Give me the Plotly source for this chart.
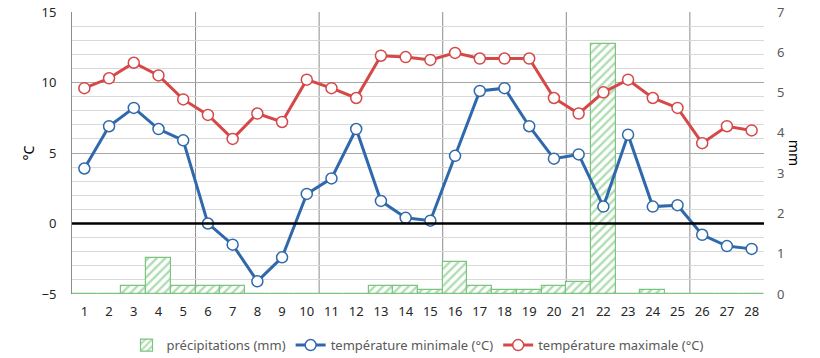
import plotly.graph_objects as go

days = list(range(1, 29))
temp_min = [3.9, 6.9, 8.2, 6.7, 5.9, 0.0, -1.5, -4.1, -2.4, 2.1, 3.2, 6.7, 1.6, 0.4,
            0.2, 4.8, 9.4, 9.6, 6.9, 4.6, 4.9, 1.2, 6.3, 1.2, 1.3, -0.8, -1.6, -1.8]
temp_max = [9.6, 10.3, 11.4, 10.5, 8.8, 7.7, 6.0, 7.8, 7.2, 10.2, 9.6, 8.9, 11.9, 11.8,
            11.6, 12.1, 11.7, 11.7, 11.7, 8.9, 7.8, 9.3, 10.2, 8.9, 8.2, 5.7, 6.9, 6.6]
precip = [0.0, 0.0, 0.2, 0.9, 0.2, 0.2, 0.2, 0.0, 0.0, 0.0, 0.0, 0.0, 0.2, 0.2,
          0.1, 0.8, 0.2, 0.1, 0.1, 0.2, 0.3, 6.2, 0.0, 0.1, 0.0, 0.0, 0.0, 0.0]
week_bounds = [5.5, 10.5, 15.5, 20.5, 25.5]

BLUE = "#2f69ab"
RED = "#d64848"
GREEN = "#5fbb63"
TXT = "#595959"
FONT = "Noto Sans"

fig = go.Figure()

fig.add_trace(go.Bar(
    x=days, y=precip, name="précipitations (mm)", yaxis="y",
    marker=dict(color="white", line=dict(color="#7cc47f", width=1.2),
                pattern=dict(shape="/", fgcolor=GREEN, bgcolor="white", size=6, solidity=0.4)),
))
fig.add_trace(go.Scatter(
    x=days, y=temp_min, name="température minimale (°C)", yaxis="y2",
    mode="lines+markers", line=dict(color=BLUE, width=3),
    marker=dict(symbol="circle", size=11, color="white", line=dict(color=BLUE, width=1.5)),
))
fig.add_trace(go.Scatter(
    x=days, y=temp_max, name="température maximale (°C)", yaxis="y2",
    mode="lines+markers", line=dict(color=RED, width=3),
    marker=dict(symbol="circle", size=11, color="white", line=dict(color=RED, width=1.5)),
))

# week separators
for xb in week_bounds:
    fig.add_shape(type="line", x0=xb, x1=xb, y0=0, y1=1, xref="x", yref="paper",
                  line=dict(color="#8c8c8c", width=1), layer="below")

# zero line drawn over the bars
fig.add_shape(type="line", x0=0, x1=1, y0=0, y1=0, xref="paper", yref="y2",
              line=dict(color="#000000", width=2.5), layer="above")

fig.update_layout(
    width=820, height=358,
    margin=dict(l=72, r=56, t=12, b=64, autoexpand=False),
    paper_bgcolor="white", plot_bgcolor="white",
    font=dict(family=FONT, size=13, color=TXT),
    bargap=0,
    showlegend=True,
    legend=dict(orientation="h", x=0.5, xanchor="center", xref="paper",
                y=0.036, yref="container", yanchor="middle",
                font=dict(size=13, color=TXT), traceorder="normal"),
    xaxis=dict(range=[0.5, 28.5], tickmode="array", tickvals=days, showgrid=False,
               zeroline=False, showline=False, ticks="", ticklabelstandoff=8,
               tickfont=dict(size=13, color="#262626")),
    yaxis=dict(side="right", range=[0, 7], dtick=1, showgrid=False, zeroline=False,
               showline=False, ticks="", ticklabelstandoff=12,
               tickfont=dict(size=13, color=TXT)),
    yaxis2=dict(overlaying="y", side="left", range=[-5, 15], dtick=5,
                showgrid=True, gridcolor="#a6a6a6", gridwidth=1,
                minor=dict(dtick=1, showgrid=True, gridcolor="#d9d9d9", gridwidth=1),
                zeroline=False,
                showline=True, linecolor="#8c8c8c", linewidth=1, ticks="",
                ticklabelstandoff=12,
                tickfont=dict(size=13, color="#262626")),
    annotations=[
        dict(text="°C", x=-0.063, y=0.5, xref="paper", yref="paper", showarrow=False,
             xanchor="center", yanchor="middle",
             textangle=-90, font=dict(size=14, color="#000000")),
        dict(text="mm", x=1.045, y=0.5, xref="paper", yref="paper", showarrow=False,
             xanchor="center", yanchor="middle",
             textangle=90, font=dict(size=14, color="#000000")),
    ],
)

fig.write_html("out.html", config={"displayModeBar": False},
               post_script="document.body.style.margin='0';")
